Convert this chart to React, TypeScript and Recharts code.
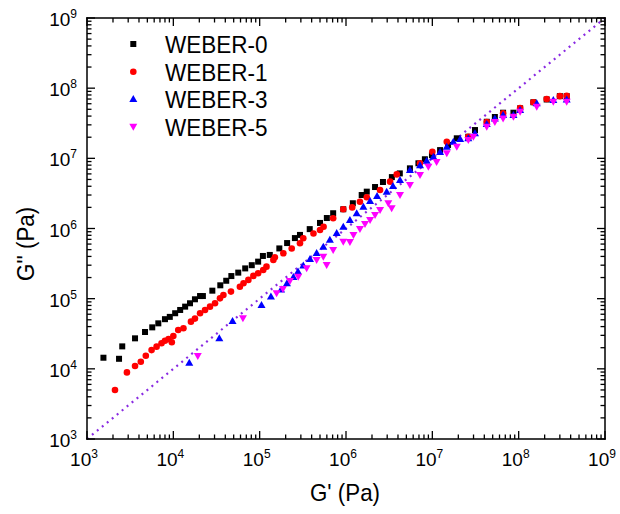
import React from 'react';
import { ScatterChart, Scatter, XAxis, YAxis, ReferenceLine } from 'recharts';

const FONT = '"Liberation Sans", Arial, Helvetica, sans-serif';

// axis decades (powers of ten) and minor tick multipliers
const DECADES = [3, 4, 5, 6, 7, 8, 9];
const MINOR_STEPS = [2, 3, 4, 5, 6, 7, 8, 9];

const SERIES_NAMES = ['WEBER-0', 'WEBER-1', 'WEBER-3', 'WEBER-5'];
const SERIES_COLORS = ['#000000', '#ff0000', '#0000ff', '#ff00ff'];

// [G' (Pa), G'' (Pa)]
const weber0 = [
  [1.55e3, 1.44e4], [2.35e3, 1.39e4], [2.56e3, 2.09e4], [3.6e3, 2.72e4], [4.7e3, 3.35e4],
  [5.7e3, 3.9e4], [6.7e3, 4.45e4], [8.0e3, 5.1e4], [9.1e3, 5.5e4], [1.05e4, 6.2e4],
  [1.2e4, 6.9e4], [1.37e4, 7.7e4], [1.56e4, 8.6e4], [1.78e4, 9.8e4], [2.04e4, 1.09e5],
  [2.2e4, 1.09e5], [2.83e4, 1.3e5], [3.5e4, 1.55e5], [4.1e4, 1.8e5], [4.7e4, 2.1e5],
  [5.65e4, 2.35e5], [6.8e4, 2.7e5], [8.1e4, 3.0e5], [9.6e4, 3.37e5], [1.09e5, 4.06e5],
  [1.31e5, 4.2e5], [1.69e5, 5.2e5], [2.08e5, 6.2e5], [2.56e5, 7.3e5], [2.93e5, 8.1e5],
  [3.8e5, 9.8e5], [5.0e5, 1.2e6], [6.0e5, 1.41e6], [7.1e5, 1.65e6], [9.3e5, 1.88e6],
  [1.2e6, 2.29e6], [1.52e6, 3.0e6], [1.74e6, 3.35e6], [2.17e6, 3.9e6], [2.68e6, 4.6e6],
  [3.4e6, 5.4e6], [4.2e6, 6.1e6], [5.5e6, 7.2e6], [6.9e6, 8.5e6], [8.2e6, 9.7e6],
  [9.9e6, 1.11e7], [1.23e7, 1.31e7], [1.52e7, 1.55e7], [1.92e7, 1.93e7], [2.61e7, 2.03e7],
  [3.12e7, 2.53e7], [4.27e7, 3.32e7], [5.3e7, 3.88e7], [6.6e7, 4.47e7], [8.7e7, 4.47e7],
  [1.04e8, 5.16e7], [1.48e8, 6.3e7], [2.11e8, 6.9e7], [3.0e8, 7.7e7], [3.6e8, 7.7e7],
];

const weber1 = [
  [2.11e3, 4.99e3], [2.9e3, 8.9e3], [3.6e3, 1.1e4], [4.2e3, 1.26e4], [4.8e3, 1.54e4],
  [5.6e3, 1.85e4], [6.4e3, 2.07e4], [7.3e3, 2.31e4], [8.0e3, 2.51e4], [8.8e3, 2.66e4],
  [9.6e3, 2.39e4], [1.0e4, 2.93e4], [1.14e4, 3.57e4], [1.31e4, 3.78e4], [1.6e4, 4.7e4],
  [1.78e4, 5.2e4], [2.04e4, 6.2e4], [2.33e4, 6.9e4], [2.66e4, 7.7e4], [3.04e4, 8.6e4],
  [3.47e4, 1.01e5], [3.8e4, 1.13e5], [4.65e4, 1.26e5], [5.9e4, 1.48e5], [6.5e4, 1.66e5],
  [7.4e4, 1.85e5], [8.45e4, 2.11e5], [9.6e4, 2.3e5], [1.1e5, 2.56e5], [1.2e5, 2.86e5],
  [1.44e5, 3.56e5], [1.5e5, 3.89e5], [1.88e5, 4.43e5], [2.35e5, 5.2e5], [2.93e5, 6.15e5],
  [3.2e5, 7.25e5], [4.2e5, 8.5e5], [5.0e5, 9.5e5], [5.5e5, 1.06e6], [7.1e5, 1.4e6],
  [9.3e5, 1.88e6], [1.18e6, 2.0e6], [1.45e6, 2.41e6], [1.74e6, 2.79e6], [2.48e6, 3.54e6],
  [3.24e6, 4.65e6], [3.87e6, 5.9e6], [7.2e6, 8.5e6], [1.0e7, 1.24e7], [1.47e7, 1.72e7],
  [2.61e7, 2.03e7], [4.27e7, 3.3e7], [6.6e7, 4.4e7], [1.04e8, 5.2e7], [1.48e8, 6.3e7],
  [2.11e8, 7.0e7], [3.0e8, 7.7e7], [3.6e8, 7.8e7],
];

const weber3 = [
  [1.53e4, 1.22e4], [3.41e4, 2.72e4], [4.85e4, 4.8e4], [1.05e5, 8.1e4], [1.35e5, 1.07e5],
  [1.77e5, 1.35e5], [2.07e5, 1.66e5], [2.46e5, 2.04e5], [2.78e5, 2.43e5], [3.2e5, 2.97e5],
  [3.83e5, 3.68e5], [4.57e5, 4.48e5], [5.46e5, 5.5e5], [6.5e5, 6.9e5], [7.8e5, 8.6e5],
  [9.3e5, 1.06e6], [1.11e6, 1.32e6], [1.33e6, 1.65e6], [1.59e6, 2.05e6], [1.9e6, 2.47e6],
  [2.29e6, 2.9e6], [2.96e6, 3.35e6], [3.5e6, 4.03e6], [4.22e6, 4.9e6], [5.5e6, 6.8e6],
  [7.2e6, 8.0e6], [8.6e6, 9.2e6], [1.03e7, 1.05e7], [1.23e7, 1.23e7], [1.47e7, 1.46e7],
  [1.75e7, 1.72e7], [2.1e7, 1.88e7], [2.61e7, 1.93e7], [3.12e7, 2.27e7], [4.27e7, 3.08e7],
  [5.3e7, 3.69e7], [6.6e7, 4.14e7], [8.7e7, 4.14e7], [1.04e8, 4.88e7], [1.62e8, 6.1e7],
  [2.52e8, 6.8e7], [3.6e8, 6.9e7],
];

const weber5 = [
  [1.92e4, 1.52e4], [6.4e4, 5.24e4], [1.57e5, 1.19e5], [1.86e5, 1.37e5], [2.24e5, 1.79e5],
  [2.8e5, 2.06e5], [3.5e5, 2.71e5], [4.57e5, 3.56e5], [5.46e5, 3.97e5], [5.97e5, 3.02e5],
  [7.1e5, 4.94e5], [9.3e5, 6.5e5], [1.11e6, 6.4e5], [1.22e6, 8.1e5], [1.45e6, 9.8e5],
  [1.66e6, 1.16e6], [1.9e6, 1.32e6], [2.17e6, 1.56e6], [2.48e6, 1.84e6], [3.09e6, 2.29e6],
  [3.38e6, 1.94e6], [4.22e6, 3.0e6], [5.5e6, 4.17e6], [7.2e6, 5.8e6], [9.0e6, 7.6e6],
  [1.12e7, 8.9e6], [1.47e7, 1.18e7], [1.92e7, 1.46e7], [2.61e7, 1.82e7], [2.99e7, 2.03e7],
  [4.27e7, 2.82e7], [5.3e7, 3.29e7], [6.6e7, 3.71e7], [8.7e7, 3.92e7], [1.04e8, 4.61e7],
  [1.62e8, 5.43e7], [2.52e8, 6.4e7], [3.6e8, 6.4e7],
];

const SERIES = [weber0, weber1, weber3, weber5].map((pts) => pts.map(([x, y]) => ({ x, y })));

const MAJOR = DECADES.map((e) => Math.pow(10, e));
const MAJOR_SET = new Set(MAJOR);
const ALL_TICKS = [
  ...MAJOR,
  ...DECADES.slice(0, -1).flatMap((e) => MINOR_STEPS.map((m) => m * Math.pow(10, e))),
].sort((a, b) => a - b);
const LO = MAJOR[0];
const HI = MAJOR[MAJOR.length - 1];
const DOMAIN = [LO, HI];

// plot box size (chart 620x514 minus margins and axis sizes)
const PLOT_W = 518;
const PLOT_H = 421;
const FRAME = 1.5;
const TICK_W = 1.3;

const exp = (v: number) => Math.round(Math.log10(v));
const tickLen = (v: number) => (MAJOR_SET.has(v) ? 8 : 4.5);

// ticks and frame are drawn as thin filled rects at the axis' own tick positions
const BottomTick = ({ x, y, payload }: any) => {
  const v = payload.value;
  const len = tickLen(v);
  return (
    <g>
      <rect x={x - TICK_W / 2} y={y - len} width={TICK_W} height={len} fill="#000" />
      <rect x={x - TICK_W / 2} y={y - PLOT_H} width={TICK_W} height={len} fill="#000" />
      {v === LO && (
        <>
          <rect x={x - FRAME / 2} y={y - FRAME / 2} width={PLOT_W + FRAME} height={FRAME} fill="#000" />
          <rect x={x - FRAME / 2} y={y - PLOT_H - FRAME / 2} width={PLOT_W + FRAME} height={FRAME} fill="#000" />
        </>
      )}
      {MAJOR_SET.has(v) && (
        <text x={x - 3} y={y + 27} textAnchor="middle" fontSize={19} fontFamily={FONT} fill="#000">
          10<tspan dy={-8} fontSize={12}>{exp(v)}</tspan>
        </text>
      )}
    </g>
  );
};

const LeftTick = ({ x, y, payload }: any) => {
  const v = payload.value;
  const len = tickLen(v);
  return (
    <g>
      <rect x={x} y={y - TICK_W / 2} width={len} height={TICK_W} fill="#000" />
      <rect x={x + PLOT_W - len} y={y - TICK_W / 2} width={len} height={TICK_W} fill="#000" />
      {v === LO && (
        <>
          <rect x={x - FRAME / 2} y={y - PLOT_H - FRAME / 2} width={FRAME} height={PLOT_H + FRAME} fill="#000" />
          <rect x={x + PLOT_W - FRAME / 2} y={y - PLOT_H - FRAME / 2} width={FRAME} height={PLOT_H + FRAME} fill="#000" />
        </>
      )}
      {MAJOR_SET.has(v) && (
        <text x={x - 10} y={y + 8} textAnchor="end" fontSize={19} fontFamily={FONT} fill="#000">
          10<tspan dy={-8} fontSize={12}>{exp(v)}</tspan>
        </text>
      )}
    </g>
  );
};

function marker(i: number, cx: number, cy: number, color: string) {
  if (i === 0) return <rect x={cx - 3} y={cy - 3} width={6} height={6} fill={color} />;
  if (i === 1) return <circle cx={cx} cy={cy} r={3.3} fill={color} />;
  if (i === 2) return <polygon points={`${cx},${cy - 4} ${cx - 4},${cy + 3} ${cx + 4},${cy + 3}`} fill={color} />;
  return <polygon points={`${cx - 4},${cy - 3} ${cx + 4},${cy - 3} ${cx},${cy + 4}`} fill={color} />;
}

const LEGEND_ROWS = [44, 71.7, 99, 126.7];

export default function App() {
  return (
    <div style={{ position: 'absolute', left: 0, top: 0, width: 620, height: 514 }}>
      <ScatterChart width={620} height={514} margin={{ top: 18, right: 15, bottom: 0, left: 0 }}>
        <XAxis
          dataKey="x" type="number" scale="log" domain={DOMAIN} ticks={ALL_TICKS} interval={0}
          allowDataOverflow height={75} tickSize={0} tickMargin={0} tickLine={false}
          axisLine={false} tick={<BottomTick />}
        />
        <YAxis
          dataKey="y" type="number" scale="log" domain={DOMAIN} ticks={ALL_TICKS} interval={0}
          allowDataOverflow width={87} tickSize={0} tickMargin={0} tickLine={false}
          axisLine={false} tick={<LeftTick />}
        />
        <ReferenceLine
          segment={[{ x: LO, y: LO }, { x: HI, y: HI }]}
          stroke="#8a2be2" strokeWidth={2.2} strokeDasharray="2 4.4"
        />
        {SERIES.map((data, i) => (
          <Scatter
            key={SERIES_NAMES[i]}
            name={SERIES_NAMES[i]}
            data={data}
            isAnimationActive={false}
            shape={(p: any) => marker(i, p.cx, p.cy, SERIES_COLORS[i])}
          />
        ))}
      </ScatterChart>
      <svg width={620} height={514} style={{ position: 'absolute', left: 0, top: 0, pointerEvents: 'none' }}>
        {SERIES_NAMES.map((name, i) => (
          <g key={name}>
            {marker(i, 133.3, LEGEND_ROWS[i], SERIES_COLORS[i])}
            <text
              transform={`translate(165,${LEGEND_ROWS[i] + 8.8}) scale(0.92,1)`}
              fontSize={24.5} fontFamily={FONT} fill="#000"
            >
              {name}
            </text>
          </g>
        ))}
        <text transform="translate(345,501) scale(0.93,1)" textAnchor="middle" fontSize={24} fontFamily={FONT} fill="#000">
          G' (Pa)
        </text>
        <text transform="translate(34,244) rotate(-90) scale(0.93,1)" textAnchor="middle" fontSize={24} fontFamily={FONT} fill="#000">
          G'' (Pa)
        </text>
      </svg>
    </div>
  );
}
